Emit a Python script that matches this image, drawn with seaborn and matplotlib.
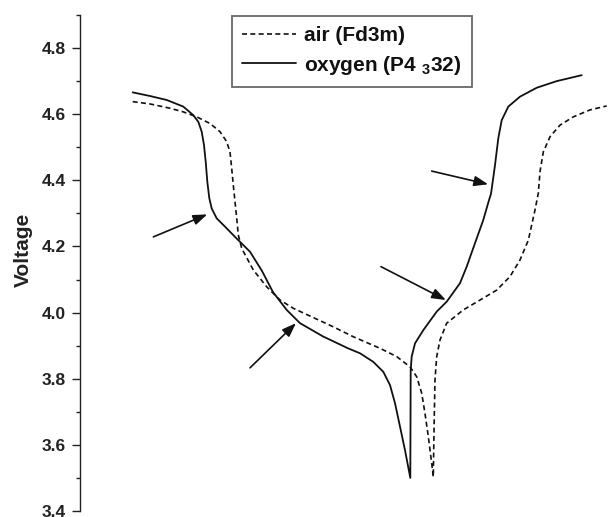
import numpy as np
import pandas as pd
import matplotlib
matplotlib.use("Agg")
import matplotlib.pyplot as plt
import seaborn as sns
from matplotlib.ticker import MultipleLocator

# Voltage profiles (arbitrary capacity axis, 0-100) for the two spinel phases
oxygen_x = [9.98, 13.26, 16.42, 19.56, 21.46, 22.41, 23.05, 23.48, 23.81, 24.11, 24.49, 24.94,
            25.89, 27.46, 29.36, 32.20, 34.47, 36.55, 39.15, 41.67, 46.02, 50.76, 53.03, 55.55,
            57.44, 58.71, 59.66, 60.61, 61.55, 62.56,
            62.63, 62.82, 63.45, 65.02, 67.56, 69.45, 71.97, 73.24, 74.81, 76.38, 77.46, 77.84,
            78.60, 79.22, 79.87, 81.12, 83.33, 86.50, 90.28, 95.02]
oxygen_v = [4.666, 4.655, 4.643, 4.623, 4.597, 4.577, 4.547, 4.507, 4.456, 4.396, 4.346, 4.315,
            4.285, 4.260, 4.229, 4.184, 4.126, 4.062, 4.008, 3.968, 3.928, 3.892, 3.877, 3.851,
            3.821, 3.781, 3.726, 3.655, 3.584, 3.500,
            3.826, 3.867, 3.907, 3.947, 4.003, 4.033, 4.089, 4.139, 4.210, 4.280, 4.340, 4.359,
            4.446, 4.527, 4.582, 4.623, 4.653, 4.680, 4.700, 4.718]

air_x = [9.98, 13.26, 17.05, 19.56, 22.10, 24.62, 26.52, 27.78, 28.41, 28.73, 29.03, 29.36,
         29.68, 29.98, 30.63, 32.82, 35.36, 37.88, 40.40, 44.19, 47.97, 51.76, 56.82, 59.98,
         62.50, 63.77, 64.72, 65.34, 65.97, 66.61, 66.91,
         67.05, 67.23, 67.56, 68.18, 69.45, 72.59, 75.76, 78.92, 81.44, 83.33, 84.91, 86.17,
         86.80, 87.12, 87.75, 89.02, 90.91, 93.43, 96.59, 99.75]
air_v = [4.638, 4.631, 4.618, 4.607, 4.592, 4.572, 4.547, 4.517, 4.486, 4.436, 4.386, 4.335,
         4.285, 4.235, 4.194, 4.129, 4.078, 4.038, 4.013, 3.985, 3.957, 3.927, 3.892, 3.867,
         3.836, 3.806, 3.756, 3.695, 3.625, 3.544, 3.503,
         3.645, 3.796, 3.867, 3.917, 3.968, 4.008, 4.038, 4.068, 4.109, 4.159, 4.219, 4.310,
         4.361, 4.426, 4.486, 4.532, 4.567, 4.592, 4.613, 4.625]

series_labels = ["air (Fd3m)", "oxygen (P4 $_3$32)"]
y_ticks = [3.4, 3.6, 3.8, 4.0, 4.2, 4.4, 4.6, 4.8]

# Arrows marking plateau features: (tail x, tail V, head x, head V)
arrows = [(13.9, 4.229, 24.1, 4.297),
          (32.2, 3.833, 40.9, 3.968),
          (57.0, 4.139, 69.3, 4.038),
          (66.6, 4.428, 77.3, 4.388)]

sns.set_theme(style="white")
plt.rcParams["font.family"] = ["Liberation Sans", "DejaVu Sans"]
plt.rcParams["mathtext.fontset"] = "custom"
plt.rcParams["mathtext.rm"] = "Liberation Sans:bold"
plt.rcParams["mathtext.bf"] = "Liberation Sans:bold"
plt.rcParams["mathtext.it"] = "Liberation Sans:bold"
plt.rcParams["mathtext.default"] = "bf"

fig = plt.figure(figsize=(6.08, 5.17), dpi=100)
ax = fig.add_axes([80 / 608, 6 / 517, 528 / 608, 496 / 517])

air_df = pd.DataFrame({"x": air_x, "V": air_v})
oxy_df = pd.DataFrame({"x": oxygen_x, "V": oxygen_v})

sns.lineplot(data=air_df, x="x", y="V", sort=False, estimator=None, ax=ax,
             color="#111111", linewidth=1.2, linestyle=(0, (3, 2)), label=series_labels[0])
sns.lineplot(data=oxy_df, x="x", y="V", sort=False, estimator=None, ax=ax,
             color="#111111", linewidth=1.3, label=series_labels[1])

for x0, y0, x1, y1 in arrows:
    ax.annotate("", xy=(x1, y1), xytext=(x0, y0),
                arrowprops=dict(arrowstyle="-|>,head_length=0.6,head_width=0.22",
                                color="#111111", lw=1.2, mutation_scale=14,
                                shrinkA=0, shrinkB=0))

ax.set_xlim(0, 100)
ax.set_ylim(3.4, 4.9)
ax.set_yticks(y_ticks)
ax.set_yticklabels([f"{t:.1f}" for t in y_ticks])
ax.yaxis.set_minor_locator(MultipleLocator(0.1))
ax.set_xticks([])
ax.set_xlabel("")
ax.set_ylabel("Voltage", fontsize=15, fontweight="bold", color="#222222")
ax.yaxis.set_label_coords(-0.09, 0.526)

for side in ["top", "right", "bottom"]:
    ax.spines[side].set_visible(False)
ax.spines["left"].set_color("#222222")
ax.spines["left"].set_linewidth(1.0)

ax.tick_params(axis="y", which="major", direction="out", length=6, width=1,
               color="#222222", labelsize=12.5, labelcolor="#222222", pad=4, left=True)
ax.tick_params(axis="y", which="minor", direction="out", length=3, width=1,
               color="#222222", left=True)
for lbl in ax.get_yticklabels():
    lbl.set_fontweight("bold")

leg = ax.legend(loc="upper left", bbox_to_anchor=(0.288, 0.998), borderaxespad=0,
                frameon=True, fancybox=False, shadow=False, handlelength=2.55,
                handletextpad=0.4, borderpad=0.5, labelspacing=0.4,
                prop={"weight": "bold", "size": 15})
leg.get_frame().set_edgecolor("#444444")
leg.get_frame().set_linewidth(1.3)
for t in leg.get_texts():
    t.set_color("#111111")

fig.savefig("out.png", dpi=100, facecolor="white")
